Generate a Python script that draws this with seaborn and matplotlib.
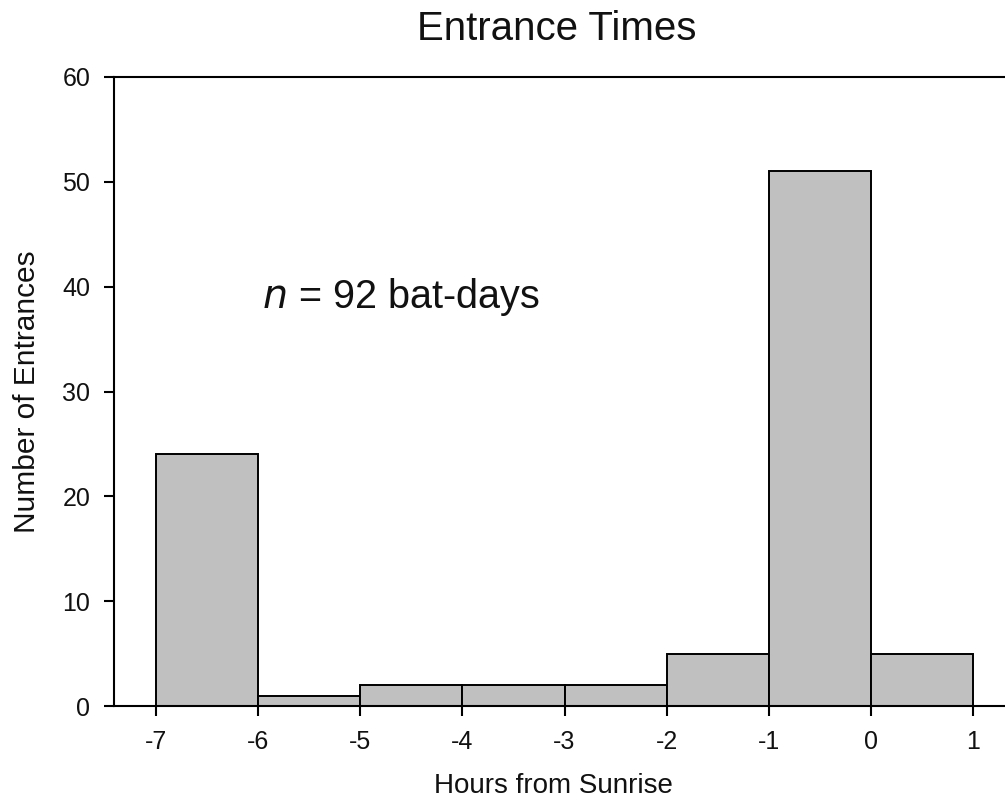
import matplotlib
matplotlib.use("Agg")
import matplotlib.pyplot as plt
import seaborn as sns
import numpy as np

# Data
bin_edges = [-7, -6, -5, -4, -3, -2, -1, 0, 1]
counts = [24, 1, 2, 2, 2, 5, 51, 5]
x_ticks = [-7, -6, -5, -4, -3, -2, -1, 0, 1]
y_ticks = [0, 10, 20, 30, 40, 50, 60]
title = "Entrance Times"
x_label = "Hours from Sunrise"
y_label = "Number of Entrances"

bin_centers = [(a + b) / 2 for a, b in zip(bin_edges[:-1], bin_edges[1:])]

sns.set_style("ticks")
plt.rcParams['font.family'] = ['Liberation Sans', 'DejaVu Sans']

fig = plt.figure(figsize=(10.05, 8.1), dpi=100)
ax = fig.add_axes([114 / 1005, 104 / 810, 1 - 114 / 1005, 629 / 810])

sns.histplot(x=bin_centers, weights=counts, bins=bin_edges, ax=ax,
             color="#c0c0c0", edgecolor="black", linewidth=1.4, alpha=1.0)

ax.set_xlim(-7.411, 1.313)
ax.set_ylim(0, 60)
ax.set_xticks(x_ticks)
ax.set_yticks(y_ticks)
ax.set_xticklabels([str(v) for v in x_ticks])
ax.set_yticklabels([str(v) for v in y_ticks])

for side in ['left', 'bottom', 'top']:
    ax.spines[side].set_visible(True)
    ax.spines[side].set_linewidth(1.5)
    ax.spines[side].set_color('black')
ax.spines['right'].set_visible(False)

ax.tick_params(axis='both', direction='out', length=7, width=1.5, color='black',
               labelsize=18, labelcolor='#111111')
ax.tick_params(axis='y', pad=10)
ax.tick_params(axis='x', pad=10)

ax.set_xlabel(x_label, fontsize=20, color='#111111')
ax.set_ylabel(y_label, fontsize=21.5, color='#111111')
ax.xaxis.set_label_coords(0.493, -0.106)
ax.yaxis.set_label_coords(-0.082, 0.5)

ax.set_title(title, fontsize=29, pad=27, color='#111111', x=0.497)

ax.text(-5.96, 38, r"$\it{n}$ = 92 bat-days", fontsize=28.5, ha='left', va='baseline',
        color='#111111')

fig.savefig("out.png", dpi=100)
